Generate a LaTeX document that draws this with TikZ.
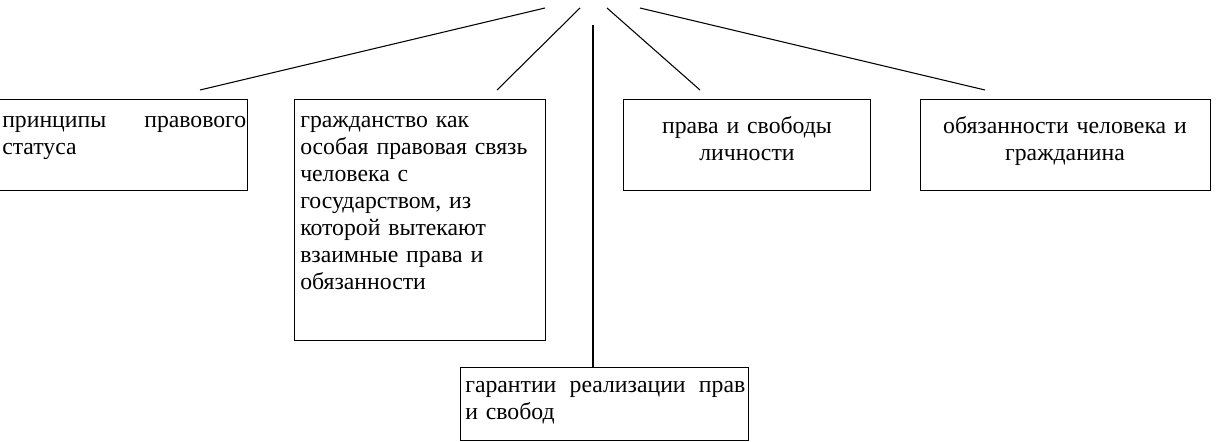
\documentclass[tikz,border=0pt]{standalone}
\usepackage{fontspec}
\setmainfont{Liberation Serif}
\usetikzlibrary{positioning}

\begin{document}
\begin{tikzpicture}[x=0.75pt,y=-0.75pt,
  frame/.style={draw,line width=0.8pt,anchor=north west,inner sep=0pt},
  txt/.style={anchor=north west,inner sep=0pt,font=\fontsize{17.8}{20.25}\selectfont,align=left},
  ctxt/.style={anchor=north,inner sep=0pt,font=\fontsize{17.8}{20.25}\selectfont,align=center},
  conn/.style={line width=0.8pt}]
\useasboundingbox (0,0) rectangle (1218,442);
% boxes
\node[frame,minimum width=186.75pt,minimum height=68.25pt] (princ) at (-2,99) {};
\node[frame,minimum width=188.25pt,minimum height=180.75pt] (grazh) at (294,99) {};
\node[frame,minimum width=185.25pt,minimum height=68.25pt] (prava) at (623,99) {};
\node[frame,minimum width=217.5pt,minimum height=68.25pt] (obyaz) at (920,99) {};
\node[frame,minimum width=216pt,minimum height=54.75pt] (garant) at (460,367) {};
% texts
\node[txt,text width=183pt] (princt) at (2,116) {принципы\hfill правового\\статуса};
\node[txt,text width=183pt] (grazht) at (300,116) {гражданство как\\особая правовая связь\\человека с\\государством, из\\которой вытекают\\взаимные права и\\обязанности};
\node[ctxt,text width=180pt] (pravat) at (747,116) {права и свободы\\личности};
\node[ctxt,text width=210pt] (obyazt) at (1065,116) {обязанности человека и\\гражданина};
\node[txt,text width=210pt] (garantt) at (465,381) {гарантии\hfill реализации\hfill прав\\и свобод};
% connectors
\coordinate (t1) at (545,8);
\coordinate (t2) at (580,8);
\coordinate (t3) at (593,25);
\coordinate (t4) at (607,8);
\coordinate (t5) at (640,8);
\coordinate (e1) at (200,90);
\coordinate (e2) at (497,90);
\coordinate (e4) at (700,90);
\coordinate (e5) at (985,90);
\draw[conn] (t1) -- (e1);
\draw[conn] (t2) -- (e2);
\draw[conn] (t3) -- (garant.north -| t3);
\draw[conn] (t4) -- (e4);
\draw[conn] (t5) -- (e5);
\end{tikzpicture}
\end{document}
